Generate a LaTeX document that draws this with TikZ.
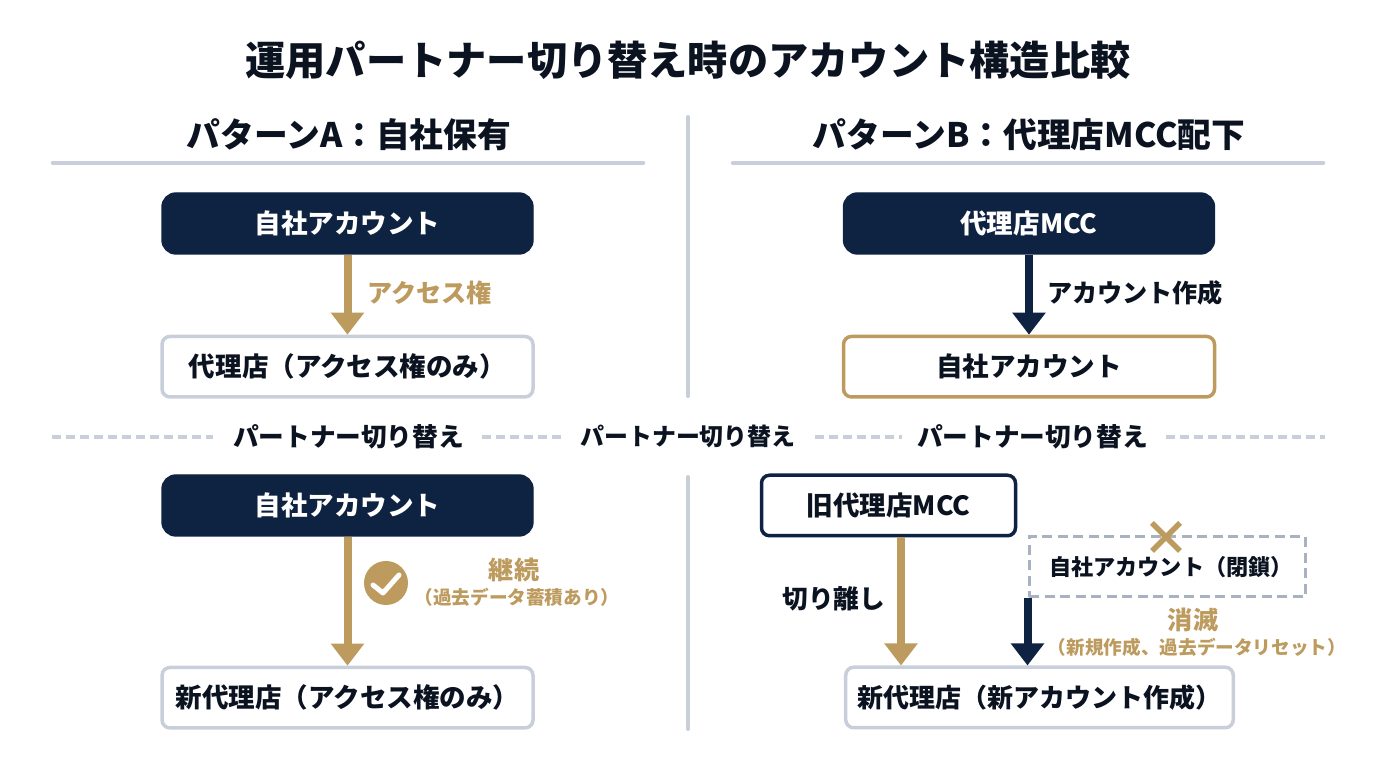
\documentclass[tikz,border=0pt]{standalone}
\usepackage{fontspec}
\setmainfont{Noto Sans CJK JP}
\usepackage{xcolor}
\usetikzlibrary{positioning,arrows.meta}
\definecolor{navyblue}{HTML}{0E2241}
\definecolor{softgold}{HTML}{BD9B5E}
\definecolor{palegrey}{HTML}{C8CFDA}
\definecolor{dashgrey}{HTML}{A9B2C0}
\definecolor{inkblack}{HTML}{0B1220}

\begin{document}
\begin{tikzpicture}[
    node distance=0.8cm,
    navybox/.style={rectangle, fill=navyblue, draw=navyblue, rounded corners=0.14cm, minimum width=3.71cm,
                    minimum height=0.61cm, text=white, font=\fontsize{7.55pt}{9pt}\selectfont\bfseries},
    whitebox/.style={rectangle, fill=white, draw=palegrey, line width=0.035cm, rounded corners=0.08cm,
                     minimum width=3.71cm, minimum height=0.605cm, text=inkblack,
                     font=\fontsize{7.55pt}{9pt}\selectfont\bfseries},
    headtext/.style={inner sep=0pt, text=inkblack, font=\fontsize{9.6pt}{11pt}\selectfont\bfseries},
    swaptext/.style={inner sep=0pt, text=inkblack, font=\fontsize{7.3pt}{9pt}\selectfont\bfseries},
    edgetext/.style={inner sep=0pt, font=\fontsize{7.15pt}{9pt}\selectfont\bfseries},
    subtext/.style={inner sep=0pt, text=softgold, font=\fontsize{5.3pt}{6pt}\selectfont\bfseries},
    goldarrow/.style={-{Triangle[length=0.22cm, width=0.32cm]}, line width=0.08cm, draw=softgold},
    navyarrow/.style={-{Triangle[length=0.22cm, width=0.32cm]}, line width=0.08cm, draw=navyblue},
    ruleline/.style={draw=palegrey, line width=0.045cm, line cap=round},
    swapline/.style={draw=palegrey, line width=0.048cm, dash pattern=on 0.09cm off 0.05cm},
]
  \useasboundingbox (0,0) rectangle (13.76,7.68);

  % titles
  \node[inner sep=0pt, text=inkblack, font=\fontsize{11.45pt}{14pt}\selectfont\bfseries] (title) at (6.88,7.08) {運用パートナー切り替え時のアカウント構造比較};
  \node[headtext] (headA) at (3.49,6.33) {パターンA：自社保有};
  \node[headtext] (headB) at (10.29,6.33) {パターンB：代理店MCC配下};

  % rules under the titles and the centre divider
  \coordinate (ruleAl) at (0.53,6.05);
  \coordinate (ruleAr) at (6.43,6.05);
  \coordinate (ruleBl) at (7.33,6.05);
  \coordinate (ruleBr) at (13.23,6.05);
  \draw[ruleline] (ruleAl) -- (ruleAr);
  \draw[ruleline] (ruleBl) -- (ruleBr);
  \coordinate (divTa) at (6.88,6.51);
  \coordinate (divTb) at (6.88,3.72);
  \coordinate (divBa) at (6.88,2.91);
  \coordinate (divBb) at (6.88,0.39);
  \draw[ruleline, line width=0.04cm] (divTa) -- (divTb);
  \draw[ruleline, line width=0.04cm] (divBa) -- (divBb);

  % pattern A, before
  \node[navybox] (ownA) at (3.475,5.445) {自社アカウント};
  \node[whitebox, below=of ownA] (agentA) {代理店（アクセス権のみ）};
  \draw[goldarrow] (ownA) -- node[edgetext, text=softgold, right=0.16cm, yshift=0.02cm] {アクセス権} (agentA);

  % pattern B, before
  \node[navybox] (mccB) at (10.29,5.445) {代理店MCC};
  \node[whitebox, draw=softgold, below=of mccB] (ownB) {自社アカウント};
  \draw[navyarrow] (mccB) -- node[edgetext, text=inkblack, right=0.14cm, yshift=0.02cm] {アカウント作成} (ownB);

  % switch row
  \node[swaptext] (swapA) at (3.485,3.31) {パートナー切り替え};
  \node[swaptext, font=\fontsize{6.8pt}{9pt}\selectfont\bfseries] (swapM) at (6.88,3.31) {パートナー切り替え};
  \node[swaptext] (swapB) at (10.325,3.31) {パートナー切り替え};
  \coordinate (swapL) at (0.52,3.31);
  \coordinate (swapR) at (13.25,3.31);
  \draw[swapline] (swapL) -- ([xshift=-0.19cm]swapA.west);
  \draw[swapline] ([xshift=0.17cm]swapA.east) -- ([xshift=-0.18cm]swapM.west);
  \draw[swapline] ([xshift=0.19cm]swapM.east) -- ([xshift=-0.14cm]swapB.west);
  \draw[swapline] ([xshift=0.17cm]swapB.east) -- (swapR);

  % pattern A, after
  \node[navybox] (ownC) at (3.475,2.625) {自社アカウント};
  \node[whitebox, below=1.29cm of ownC] (agentC) {新代理店（アクセス権のみ）};
  \draw[goldarrow] (ownC) -- (agentC);
  \node[circle, fill=softgold, minimum size=0.44cm, inner sep=0pt] (okC) at (3.86,1.85) {};
  \draw[white, line width=0.05cm, line cap=round, line join=round]
    ([shift={(-0.13,-0.02)}]okC.center) -- ([shift={(-0.03,-0.10)}]okC.center) -- ([shift={(0.13,0.08)}]okC.center);
  \node[edgetext, text=softgold] (keepC) at (5.14,1.98) {継続};
  \node[subtext, below=0.05cm of keepC, xshift=0.03cm] (keepsubC) {（過去データ蓄積あり）};

  % pattern B, after
  \node[whitebox, draw=navyblue, minimum width=2.54cm] (oldD) at (8.885,2.625) {旧代理店MCC};
  \node[rectangle, draw=dashgrey, line width=0.03cm, dash pattern=on 0.1cm off 0.055cm, minimum width=2.76cm,
        minimum height=0.6cm, text=inkblack, font=\fontsize{6.3pt}{8pt}\selectfont\bfseries] (closedD) at (11.67,2.01) {\hspace{0.08cm}自社アカウント（閉鎖）};
  \node[whitebox, minimum width=3.87cm, font=\fontsize{7.4pt}{9pt}\selectfont\bfseries] (newD) at (10.395,0.705) {新代理店（新アカウント作成）};
  \draw[goldarrow] ([xshift=0.125cm]oldD.south) -- node[edgetext, font=\fontsize{7.3pt}{9pt}\selectfont\bfseries, text=inkblack, left=0.12cm, yshift=0.03cm] {切り離し} ([xshift=0.125cm]oldD.south |- newD.north);
  \draw[navyarrow] (closedD.south west) -- (closedD.south west |- newD.north);
  \coordinate (crossD) at (11.66,2.31);
  \draw[softgold, line width=0.055cm] ([shift={(-0.14,-0.14)}]crossD) -- ([shift={(0.14,0.14)}]crossD);
  \draw[softgold, line width=0.055cm] ([shift={(-0.14,0.14)}]crossD) -- ([shift={(0.14,-0.14)}]crossD);
  \node[edgetext, text=softgold] (goneD) at (11.93,1.48) {消滅};
  \node[subtext, below=0.05cm of goneD, xshift=0.04cm] (gonesubD) {（新規作成、過去データリセット）};
\end{tikzpicture}
\end{document}
